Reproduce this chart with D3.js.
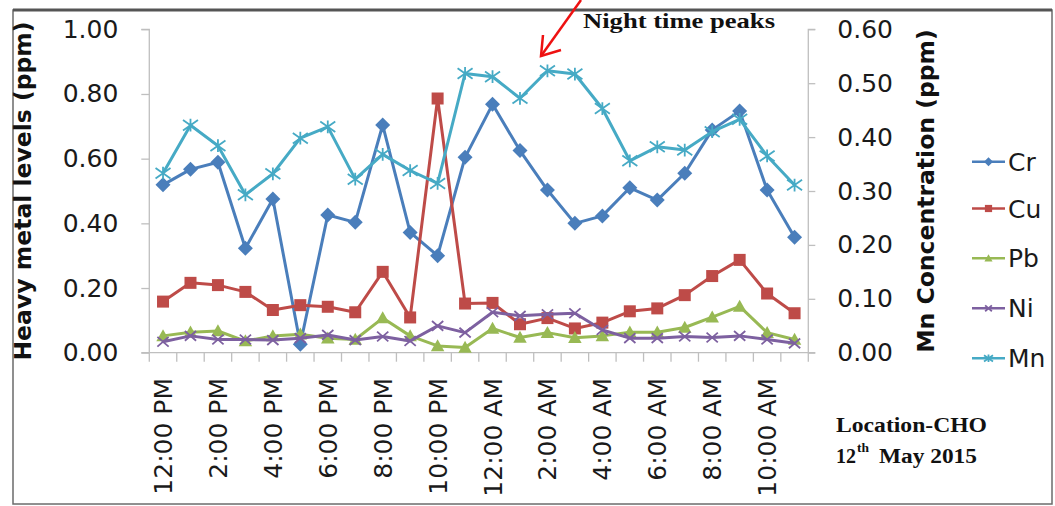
<!DOCTYPE html>
<html><head><meta charset="utf-8">
<script src="https://cdnjs.cloudflare.com/ajax/libs/d3/7.8.5/d3.min.js"></script>
<style>body{margin:0;background:#fff}svg{display:block}</style>
</head><body>
<svg id="c" width="1055" height="506"></svg>
<script>
const categories = ["12:00 PM","1:00 PM","2:00 PM","3:00 PM","4:00 PM","5:00 PM","6:00 PM","7:00 PM","8:00 PM","9:00 PM","10:00 PM","11:00 PM",
  "12:00 AM","1:00 AM","2:00 AM","3:00 AM","4:00 AM","5:00 AM","6:00 AM","7:00 AM","8:00 AM","9:00 AM","10:00 AM","11:00 AM"];
const tickLabels = ["12:00 PM","2:00 PM","4:00 PM","6:00 PM","8:00 PM","10:00 PM","12:00 AM","2:00 AM","4:00 AM","6:00 AM","8:00 AM","10:00 AM"];
const leftTicks = [0,0.2,0.4,0.6,0.8,1.0];
const rightTicks = [0,0.1,0.2,0.3,0.4,0.5,0.6];
const Cr = [0.519,0.567,0.589,0.323,0.475,0.026,0.426,0.403,0.704,0.372,0.300,0.604,0.768,0.625,0.503,0.400,0.423,0.510,0.472,0.555,0.689,0.747,0.503,0.357];
const Cu = [0.158,0.216,0.209,0.188,0.132,0.147,0.142,0.125,0.250,0.109,0.786,0.152,0.154,0.088,0.107,0.075,0.093,0.128,0.137,0.178,0.237,0.287,0.183,0.122];
const Pb = [0.052,0.063,0.067,0.036,0.052,0.057,0.045,0.041,0.107,0.052,0.021,0.016,0.075,0.047,0.062,0.046,0.052,0.063,0.063,0.078,0.110,0.143,0.062,0.041];
const Ni = [0.034,0.052,0.041,0.041,0.039,0.045,0.055,0.039,0.050,0.036,0.083,0.062,0.125,0.114,0.119,0.122,0.070,0.045,0.045,0.050,0.047,0.052,0.041,0.029];
const Mn = [0.333,0.422,0.384,0.293,0.332,0.398,0.419,0.322,0.368,0.338,0.314,0.518,0.512,0.472,0.523,0.517,0.453,0.356,0.382,0.376,0.410,0.433,0.365,0.311];
const seriesNames = ["Cr","Cu","Pb","Ni","Mn"];
const seriesColors = ["#4a7ebb","#be4b48","#98b954","#7d60a0","#46aac5"];

const svg = d3.select("#c");
const L = 149.3, R = 808.3, T = 29.3, B = 352.7;
const x = d3.scaleBand().domain(categories).range([L, R]);
const yL = d3.scaleLinear().domain([0, 1]).range([B, T]);
const yR = d3.scaleLinear().domain([0, 0.6]).range([B, T]);
const axisColor = "#bfbfbf";

// border
svg.append("rect").attr("x",13).attr("y",10).attr("width",1039).attr("height",494)
  .attr("fill","none").attr("stroke","#6b6b6b").attr("stroke-width",1.5);
svg.append("line").attr("x1",13).attr("x2",1052).attr("y1",10).attr("y2",10).attr("stroke","#555").attr("stroke-width",3);

const tickFont = "DejaVu Sans, sans-serif";

// left axis
const gL = svg.append("g").attr("transform",`translate(${L},0)`)
  .call(d3.axisLeft(yL).tickValues(leftTicks).tickFormat(d3.format(".2f")).tickSize(8).tickPadding(23));
gL.selectAll("path,line").attr("stroke",axisColor).attr("stroke-width",1.3);
gL.select(".domain").attr("d",`M-8,${T}H0V${B}H-8`);
gL.selectAll("text").attr("font-family",tickFont).attr("font-size",25).attr("fill","#1a1a1a");

// right axis
const gR = svg.append("g").attr("transform",`translate(${R},0)`)
  .call(d3.axisRight(yR).tickValues(rightTicks).tickFormat(d3.format(".2f")).tickSize(7).tickPadding(22));
gR.selectAll("path,line").attr("stroke",axisColor).attr("stroke-width",1.3);
gR.select(".domain").attr("d",`M7,${T}H0V${B}H7`);
gR.selectAll("text").attr("font-family",tickFont).attr("font-size",25).attr("fill","#1a1a1a");

// bottom axis: ticks at band boundaries
const gB = svg.append("g");
gB.append("line").attr("x1",L).attr("x2",R).attr("y1",B).attr("y2",B).attr("stroke",axisColor).attr("stroke-width",1.3);
gB.selectAll("line.t").data(categories.concat(["__end"])).join("line").attr("class","t")
  .attr("x1",(d,i)=> i<categories.length ? x(d) : R).attr("x2",(d,i)=> i<categories.length ? x(d) : R)
  .attr("y1",B).attr("y2",B+9).attr("stroke",axisColor).attr("stroke-width",1.3);
gB.selectAll("text").data(tickLabels).join("text")
  .attr("transform",d=>`translate(${x(d)+x.bandwidth()/2+9},378) rotate(-90)`)
  .attr("text-anchor","end").attr("font-family",tickFont).attr("font-size",25).attr("fill","#1a1a1a")
  .text(d=>d);

// axis titles
svg.append("text").attr("transform",`translate(31,${(T+B)/2}) rotate(-90)`).attr("text-anchor","middle")
  .attr("font-family",tickFont).attr("font-weight","bold").attr("font-size",23.5).attr("fill","#111")
  .text("Heavy metal levels (ppm)");
svg.append("text").attr("transform",`translate(934,${(T+B)/2}) rotate(-90)`).attr("text-anchor","middle")
  .attr("font-family",tickFont).attr("font-weight","bold").attr("font-size",23.5).attr("fill","#111")
  .text("Mn Concentration (ppm)");

// markers
function marker(g, type, color, s) {
  const h = s/2;
  if (type === 0) g.append("path").attr("d",`M0,${-h}L${h},0L0,${h}L${-h},0Z`).attr("fill",color);
  else if (type === 1) g.append("rect").attr("x",-h*0.8).attr("y",-h*0.8).attr("width",s*0.8).attr("height",s*0.8).attr("fill",color);
  else if (type === 2) g.append("path").attr("d",`M0,${-h*0.9}L${h*0.9},${h*0.7}L${-h*0.9},${h*0.7}Z`).attr("fill",color);
  else if (type === 3) g.append("path").attr("d",`M${-h*0.75},${-h*0.65}L${h*0.75},${h*0.65}M${-h*0.75},${h*0.65}L${h*0.75},${-h*0.65}`).attr("stroke",color).attr("stroke-width",1.8).attr("fill","none");
  else g.append("path").attr("d",`M${-h},${-h*0.7}L${h},${h*0.7}M${-h},${h*0.7}L${h},${-h*0.7}M0,${-h*0.85}L0,${h*0.85}`).attr("stroke",color).attr("stroke-width",1.8).attr("fill","none");
}

const allSeries = [Cr, Cu, Pb, Ni, Mn];
allSeries.forEach((vals, si) => {
  const ys = si === 4 ? yR : yL;
  const color = seriesColors[si];
  const line = d3.line().x((d,i)=>x(categories[i])+x.bandwidth()/2).y(d=>ys(d));
  svg.append("path").datum(vals).attr("d",line).attr("fill","none").attr("stroke",color).attr("stroke-width",3).attr("stroke-linejoin","round");
  vals.forEach((v,i) => {
    const g = svg.append("g").attr("transform",`translate(${x(categories[i])+x.bandwidth()/2},${ys(v)})`);
    marker(g, si, color, 15);
  });
});

// legend
const legY = [161.7, 208.5, 258.3, 308.3, 358.3];
seriesNames.forEach((n, i) => {
  const g = svg.append("g").attr("transform",`translate(0,${legY[i]})`);
  g.append("line").attr("x1",972).attr("x2",1005).attr("y1",0).attr("y2",0).attr("stroke",seriesColors[i]).attr("stroke-width",2.6);
  const m = g.append("g").attr("transform","translate(988.5,0)");
  marker(m, i, seriesColors[i], 9);
  g.append("text").attr("x",1008).attr("y",9).attr("font-family",tickFont).attr("font-size",25).attr("fill","#1a1a1a").text(n);
});

// annotation
const serif = "Liberation Serif, Times New Roman, serif";
svg.append("text").attr("x",583).attr("y",28).attr("font-family",serif).attr("font-weight","bold").attr("font-size",22)
  .attr("textLength",192).attr("lengthAdjust","spacingAndGlyphs").attr("fill","#111").text("Night time peaks");
svg.append("path").attr("d","M581,0L541,56").attr("stroke","#ee1111").attr("stroke-width",2.5).attr("fill","none");
svg.append("path").attr("d","M543,35L541,56L561,50").attr("stroke","#ee1111").attr("stroke-width",2.5).attr("fill","none");

svg.append("text").attr("x",836).attr("y",432).attr("font-family",serif).attr("font-weight","bold").attr("font-size",20)
  .attr("textLength",151).attr("lengthAdjust","spacingAndGlyphs").attr("fill","#111").text("Location-CHO");
svg.append("text").attr("x",836).attr("y",463).attr("font-family",serif).attr("font-weight","bold").attr("font-size",20)
  .attr("textLength",20).attr("lengthAdjust","spacingAndGlyphs").attr("fill","#111").text("12");
svg.append("text").attr("x",857).attr("y",452).attr("font-family",serif).attr("font-weight","bold").attr("font-size",13)
  .attr("textLength",12).attr("lengthAdjust","spacingAndGlyphs").attr("fill","#111").text("th");
svg.append("text").attr("x",879).attr("y",463).attr("font-family",serif).attr("font-weight","bold").attr("font-size",20)
  .attr("textLength",98).attr("lengthAdjust","spacingAndGlyphs").attr("fill","#111").text("May 2015");
</script>
</body></html>
